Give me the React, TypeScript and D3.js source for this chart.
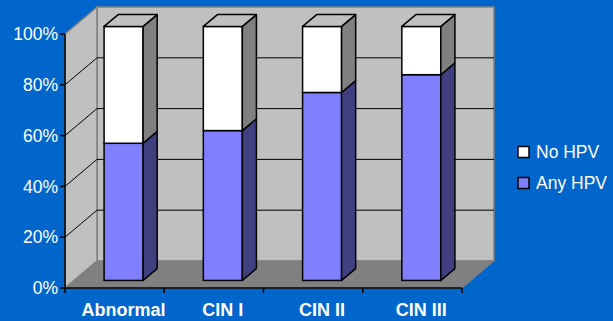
import React from "react";
import * as d3 from "d3";

const categories = ["Abnormal", "CIN I", "CIN II", "CIN III"];
const anyHpv = [0.54, 0.59, 0.74, 0.81];
const noHpv = [0.46, 0.41, 0.26, 0.19];
const yTicks = [0, 0.2, 0.4, 0.6, 0.8, 1.0];
const seriesNames = ["No HPV", "Any HPV"];

const W = 613;
const H = 321;
const DX = 32; // depth offset of walls
const DY = -27;
const BAR_DEPTH = 0.44; // fraction of depth
const BAR_W = 39;

export default function App() {
  const x = d3.scaleBand<string>().domain(categories).range([65, 462]).padding(0);
  const y = d3.scaleLinear().domain([0, 1]).range([288, 34]);
  const fmt = d3.format(".0%");

  const frontOff = (1 - BAR_DEPTH) / 2;
  const fdx = DX * frontOff;
  const fdy = DY * frontOff;
  const bdx = DX * BAR_DEPTH;
  const bdy = DY * BAR_DEPTH;

  const x0 = x.range()[0];
  const x1 = x.range()[1];
  const yb = y(0);
  const yt = y(1);

  const pts = (arr: number[][]) => arr.map((p) => p.join(",")).join(" ");

  const stackData = categories.map((c, i) => ({ c, any: anyHpv[i], no: noHpv[i] }));

  const segment = (xl: number, yBot: number, yTop: number, front: string, side: string, key: string) => (
    <g key={key}>
      <rect x={xl} y={yTop} width={BAR_W} height={yBot - yTop} fill={front} stroke="#000" strokeWidth={1.5} />
      <polygon
        points={pts([
          [xl + BAR_W, yBot],
          [xl + BAR_W + bdx, yBot + bdy],
          [xl + BAR_W + bdx, yTop + bdy],
          [xl + BAR_W, yTop],
        ])}
        fill={side}
        stroke="#000"
        strokeWidth={1.5}
        strokeLinejoin="round"
      />
    </g>
  );

  return (
    <svg
      width={W}
      height={H}
      style={{ position: "absolute", left: 0, top: 0, background: "#0066CC", fontFamily: "'Liberation Sans', Arial, sans-serif" }}
    >
      {/* back wall */}
      <polygon
        points={pts([
          [x0 + DX, yb + DY],
          [x1 + DX, yb + DY],
          [x1 + DX, yt + DY],
          [x0 + DX, yt + DY],
        ])}
        fill="#C0C0C0"
        stroke="#808080"
        strokeWidth={1.5}
      />
      {/* left wall */}
      <polygon
        points={pts([
          [x0, yb],
          [x0 + DX, yb + DY],
          [x0 + DX, yt + DY],
          [x0, yt],
        ])}
        fill="#C0C0C0"
        stroke="#808080"
        strokeWidth={1.5}
      />
      {/* floor */}
      <polygon
        points={pts([
          [x0, yb],
          [x0 + DX, yb + DY],
          [x1 + DX, yb + DY],
          [x1, yb],
        ])}
        fill="#808080"
        stroke="#808080"
        strokeWidth={1}
      />
      {/* gridlines */}
      {yTicks
        .filter((t) => t > 0 && t < 1)
        .map((t) => (
          <g key={t}>
            <line x1={x0} y1={y(t)} x2={x0 + DX} y2={y(t) + DY} stroke="#000" strokeWidth={1} />
            <line x1={x0 + DX} y1={y(t) + DY} x2={x1 + DX} y2={y(t) + DY} stroke="#000" strokeWidth={1} />
          </g>
        ))}
      {/* axes */}
      <line x1={x0} y1={yt} x2={x0} y2={yb} stroke="#000" strokeWidth={1.5} />
      <line x1={x0} y1={yb} x2={x1} y2={yb} stroke="#000" strokeWidth={1.5} />
      {yTicks.map((t) => (
        <g key={"yt" + t}>
          <line x1={x0 - 5} y1={y(t)} x2={x0} y2={y(t)} stroke="#000" strokeWidth={1.5} />
          <text x={x0 - 7} y={y(t)} dy="0.35em" textAnchor="end" fill="#fff" fontSize={17.5}>
            {fmt(t)}
          </text>
        </g>
      ))}
      {[...categories.map((c) => x(c) as number), x1].map((v, i) => (
        <line key={"xt" + i} x1={v} y1={yb} x2={v} y2={yb + 5} stroke="#000" strokeWidth={1.5} />
      ))}
      {/* bars */}
      {stackData.map((d, i) => {
        const xl = (x(d.c) as number) + fdx + (x.bandwidth() - BAR_W) / 2;
        const base = y(0) + fdy;
        const mid = y(d.any) + fdy;
        const top = y(d.any + d.no) + fdy;
        return (
          <g key={d.c}>
            {segment(xl, base, mid, "#8080FF", "#404080", "a" + i)}
            {segment(xl, mid, top, "#FFFFFF", "#808080", "n" + i)}
            <polygon
              points={pts([
                [xl, top],
                [xl + BAR_W, top],
                [xl + BAR_W + bdx, top + bdy],
                [xl + bdx, top + bdy],
              ])}
              fill="#C0C0C0"
              stroke="#000"
              strokeWidth={1.5}
              strokeLinejoin="round"
            />
          </g>
        );
      })}
      {/* category labels */}
      {categories.map((c) => (
        <text
          key={"lbl" + c}
          x={(x(c) as number) + x.bandwidth() / 2 + fdx}
          y={316}
          textAnchor="middle"
          fill="#fff"
          fontSize={18}
          fontWeight="bold"
        >
          {c}
        </text>
      ))}
      {/* legend */}
      {seriesNames.map((s, i) => (
        <g key={s} transform={`translate(518, ${152 + i * 31})`}>
          <rect x={0} y={-5.5} width={11} height={11} fill={i === 0 ? "#FFFFFF" : "#8080FF"} stroke="#000" strokeWidth={1.5} />
          <text x={18} y={0} dy="0.35em" fill="#fff" fontSize={17.5}>
            {s}
          </text>
        </g>
      ))}
    </svg>
  );
}
